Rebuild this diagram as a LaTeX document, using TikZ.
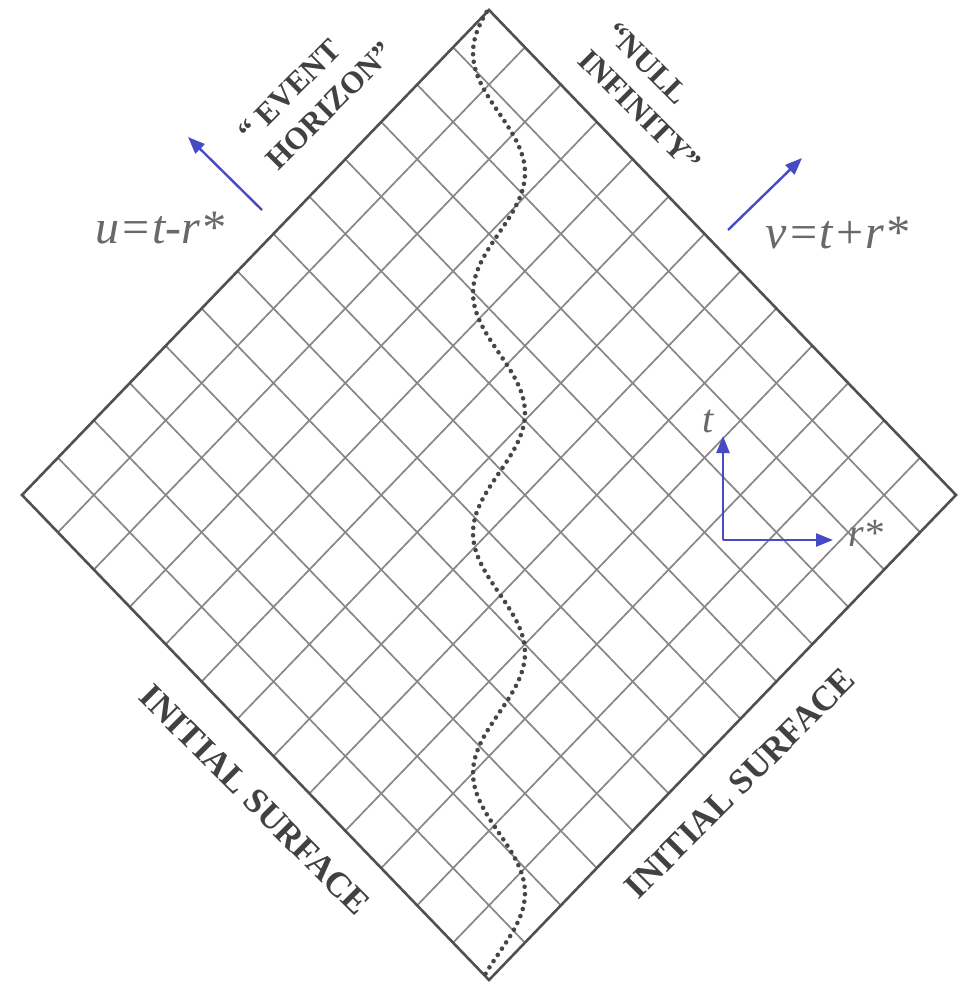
\documentclass[tikz,border=0pt]{standalone}
\usepackage{fontspec}
\setmainfont{Liberation Serif}
\usetikzlibrary{calc,arrows.meta}
\definecolor{gridgray}{RGB}{135,135,135}
\definecolor{edgegray}{RGB}{80,80,80}
\definecolor{dotgray}{RGB}{70,70,70}
\definecolor{labgray}{RGB}{105,105,105}
\definecolor{boldgray}{RGB}{65,65,65}
\definecolor{arrowblue}{RGB}{70,75,195}
\tikzset{
  gridline/.style={draw=gridgray, line width=1.7pt},
  edgeline/.style={draw=edgegray, line width=2.6pt, line join=miter},
  dotcurve/.style={draw=dotgray, line width=4.6pt, line cap=round, dash pattern=on 0pt off 7.5pt},
  bluearrow/.style={draw=arrowblue, line width=2.4pt, -{Triangle[length=17pt,width=13pt]}},
  mathlabel/.style={text=labgray, inner sep=0pt, font=\fontsize{48}{56}\selectfont\itshape},
  axislabel/.style={text=labgray, inner sep=0pt, font=\fontsize{40}{48}\selectfont\itshape},
  capslabel/.style={text=boldgray, inner sep=0pt, align=left, font=\fontsize{31}{39}\selectfont\bfseries},
  surfacelabel/.style={text=boldgray, inner sep=0pt, font=\fontsize{35}{42}\selectfont\bfseries}
}
\begin{document}
\begin{tikzpicture}[x=1pt,y=-1pt]
\path[use as bounding box, fill=white] (0,0) rectangle (964,985);
% diamond vertices
\coordinate (T) at (489,10);
\coordinate (R) at (956,495);
\coordinate (B) at (489,980);
\coordinate (L) at (22,495);
% grid
\foreach \k in {1,...,12} {
  \draw[gridline] ($(B)!\k/13!(R)$) -- ($(L)!\k/13!(T)$);
  \draw[gridline] ($(B)!\k/13!(L)$) -- ($(R)!\k/13!(T)$);
}
\draw[edgeline] (T) -- (R) -- (B) -- (L) -- cycle;
% dotted wavy worldline
\draw[dotcurve] plot[domain=12:978, samples=240, variable=\y] ({499-26*cos(1.5*(\y-53))}, \y);
% null coordinate arrows
\coordinate (ua) at (262,210);
\coordinate (ub) at (188,137);
\coordinate (va) at (728,230);
\coordinate (vb) at (802,158);
\draw[bluearrow] (ua) -- (ub);
\draw[bluearrow] (va) -- (vb);
\node[mathlabel] (ulabel) at (160,228) {u=t-r*};
\node[mathlabel] (vlabel) at (837,233) {v=t+r*};
% boundary labels
\node[capslabel, rotate=45] (eh) at (316,92) {“ EVENT\\HORIZON”};
\node[capslabel, rotate=-45] (ni) at (654,97) {“NULL\\INFINITY”};
\node[surfacelabel, rotate=-45] (isl) at (255,800) {INITIAL SURFACE};
\node[surfacelabel, rotate=45] (isr) at (740,783) {INITIAL SURFACE};
% t, r* axes
\coordinate (O) at (723,540);
\coordinate (tend) at (723,436);
\coordinate (rend) at (833,540);
\draw[bluearrow] (O) -- (tend);
\draw[bluearrow] (O) -- (rend);
\node[axislabel] (tlabel) at (708,421) {t};
\node[axislabel] (rlabel) at (866,533) {r*};
\end{tikzpicture}
\end{document}
